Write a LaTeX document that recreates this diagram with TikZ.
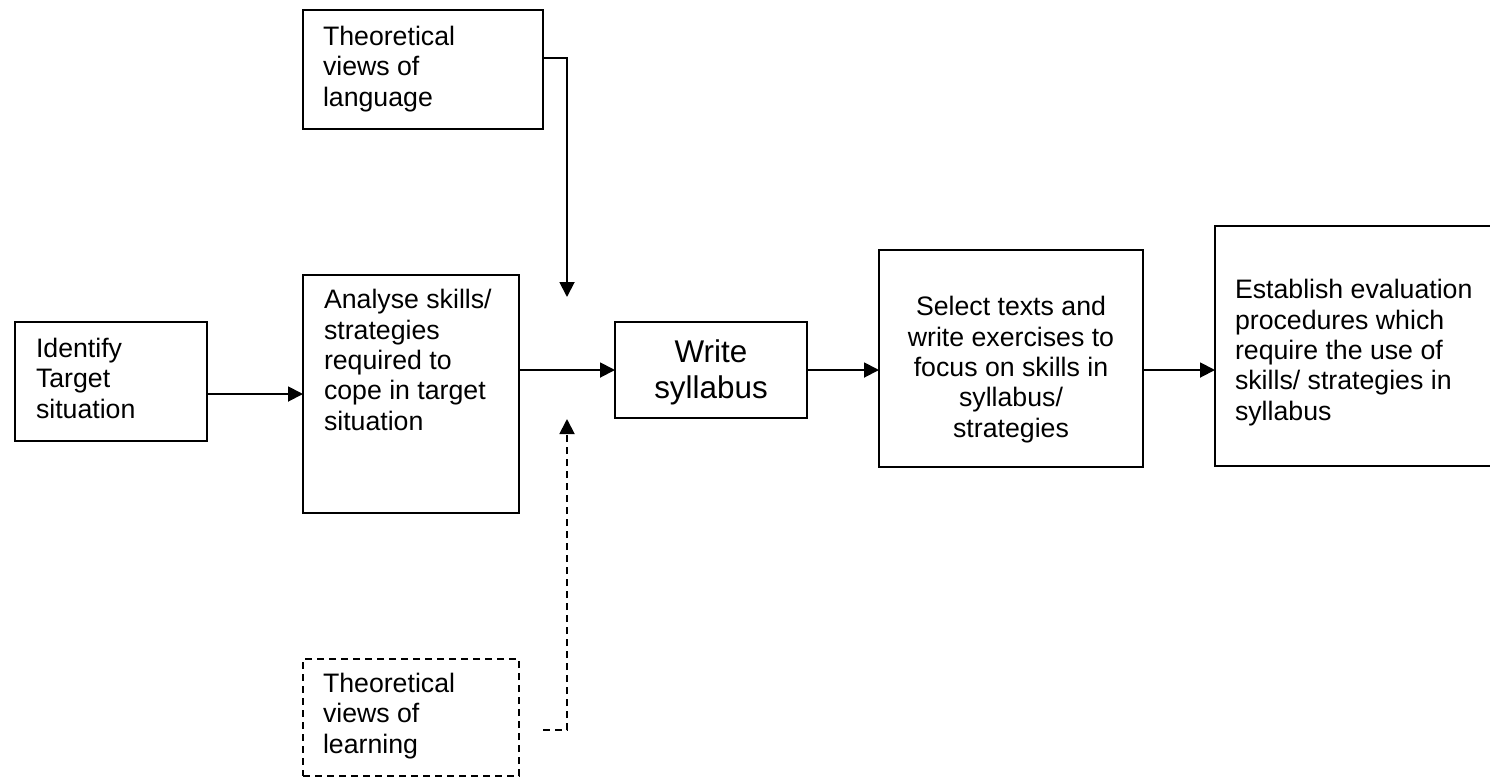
\documentclass[tikz,border=0pt]{standalone}
\usepackage{fontspec}
\setmainfont{Liberation Sans}
\usetikzlibrary{arrows.meta,calc}
\begin{document}
\begin{tikzpicture}[x=1pt,y=-1pt,
  box/.style={draw=black,line width=1.9pt,rectangle,inner sep=0pt,outer sep=0pt,anchor=north west},
  dbox/.style={box,dash pattern=on 7pt off 5pt},
  txt/.style={inner sep=0pt,outer sep=0pt,anchor=base west,align=left,
    font=\fontsize{26.7}{30.3}\selectfont},
  ctxt/.style={txt,anchor=base,align=center},
  link/.style={line width=1.9pt,-{Triangle[length=15pt,width=15pt]}},
  dlink/.style={link,dash pattern=on 7pt off 5pt}]
\useasboundingbox (0,0) rectangle (1490,780);

% process boxes
\node[box,minimum width=192pt,minimum height=119pt] (ident) at (15,322) {};
\node[box,minimum width=216pt,minimum height=238pt] (ana) at (303,275) {};
\node[box,minimum width=240pt,minimum height=119pt] (lang) at (303,10) {};
\node[box,minimum width=192pt,minimum height=96pt] (write) at (615,322) {};
\node[box,minimum width=264pt,minimum height=217pt] (select) at (879,250) {};
\node[box,minimum width=290pt,minimum height=240pt] (est) at (1215,226) {};
\node[dbox,minimum width=216pt,minimum height=117pt] (learn) at (303,659) {};

% box texts (anchored on the baseline of their last line)
\node[txt] (ident-t) at (36,418) {Identify\\Target\\situation};
\node[txt] (ana-t) at (324,430) {Analyse skills/\\strategies\\required to\\cope in target\\situation};
\node[txt] (lang-t) at (323,106) {Theoretical\\views of\\language};
\node[ctxt,font=\fontsize{31.4}{36}\selectfont] (write-t) at (711,398) {Write\\syllabus};
\node[ctxt] (select-t) at (1011,437) {Select texts and\\write exercises to\\focus on skills in\\syllabus/\\strategies};
\node[txt] (est-t) at (1235,420) {Establish evaluation\\procedures which\\require the use of\\skills/ strategies in\\syllabus};
\node[txt] (learn-t) at (323,753) {Theoretical\\views of\\learning};

% main flow
\draw[link] (ident.east |- ana.west) -- (ana.west);
\draw[link] (ana.east |- write.west) -- (write.west);
\draw[link] (write.east) -- (select.west |- write.east);
\draw[link] (select.east |- write.east) -- (est.west |- write.east);

% theoretical influences
\coordinate (langin) at (567,297);
\coordinate (learnout) at (543,730);
\coordinate (learnin) at (567,419);
\draw[link] ($(lang.north east)!0.403!(lang.south east)$) -| (langin);
\draw[dlink] (learnout) -| (learnin);
\end{tikzpicture}
\end{document}
